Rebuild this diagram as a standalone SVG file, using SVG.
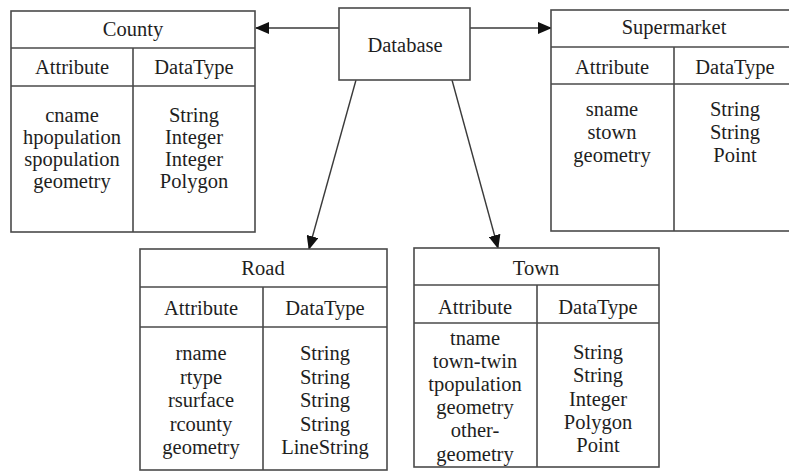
<svg xmlns="http://www.w3.org/2000/svg" width="789" height="471" viewBox="0 0 789 471">
<style>
  .box { fill: #ffffff; stroke: #4a4a4a; stroke-width: 1.6; }
  .ln { stroke: #4a4a4a; stroke-width: 1.6; fill: none; }
  .conn { stroke: #3a3a3a; stroke-width: 1.4; fill: none; marker-end: url(#arrow); }
  text { font-family: "Liberation Serif", "Times New Roman", serif; font-size: 20.5px; fill: #1e1e1e; text-anchor: middle; }
</style>
<defs>
  <marker id="arrow" markerUnits="userSpaceOnUse" markerWidth="14" markerHeight="12" refX="13" refY="6" orient="auto">
    <path d="M0,0 L14,6 L0,12 z" fill="#111111"/>
  </marker>
</defs>
<rect width="789" height="471" fill="#ffffff"/>

<g id="connectors">
  <line class="conn" x1="339" y1="28" x2="256" y2="28"/>
  <line class="conn" x1="470" y1="28" x2="551" y2="28"/>
  <line class="conn" x1="356" y1="80" x2="309" y2="249"/>
  <line class="conn" x1="452" y1="80" x2="498" y2="248"/>
</g>

<g id="database">
  <rect class="box" x="339" y="8" width="131" height="72"/>
  <text x="405" y="52">Database</text>
</g>

<g id="county">
  <rect class="box" x="11" y="11" width="244" height="221"/>
  <line class="ln" x1="11" y1="48" x2="255" y2="48"/>
  <line class="ln" x1="11" y1="86" x2="255" y2="86"/>
  <line class="ln" x1="133" y1="48" x2="133" y2="232"/>
  <text x="133" y="36">County</text>
  <text x="72" y="74">Attribute</text>
  <text x="194" y="74">DataType</text>
  <text x="72" y="122">cname</text>
  <text x="72" y="144">hpopulation</text>
  <text x="72" y="166">spopulation</text>
  <text x="72" y="188">geometry</text>
  <text x="194" y="122">String</text>
  <text x="194" y="144">Integer</text>
  <text x="194" y="166">Integer</text>
  <text x="194" y="188">Polygon</text>
</g>

<g id="supermarket">
  <rect class="box" x="551" y="10" width="246" height="221"/>
  <line class="ln" x1="551" y1="47" x2="797" y2="47"/>
  <line class="ln" x1="551" y1="84" x2="797" y2="84"/>
  <line class="ln" x1="674" y1="47" x2="674" y2="231"/>
  <text x="674" y="34">Supermarket</text>
  <text x="612" y="74">Attribute</text>
  <text x="735" y="74">DataType</text>
  <text x="612" y="116">sname</text>
  <text x="612" y="139">stown</text>
  <text x="612" y="162">geometry</text>
  <text x="735" y="116">String</text>
  <text x="735" y="139">String</text>
  <text x="735" y="162">Point</text>
</g>

<g id="road">
  <rect class="box" x="140" y="249" width="247" height="221"/>
  <line class="ln" x1="140" y1="287" x2="387" y2="287"/>
  <line class="ln" x1="140" y1="327" x2="387" y2="327"/>
  <line class="ln" x1="263" y1="287" x2="263" y2="470"/>
  <text x="263" y="275">Road</text>
  <text x="201" y="315">Attribute</text>
  <text x="325" y="315">DataType</text>
  <text x="201" y="360">rname</text>
  <text x="201" y="384">rtype</text>
  <text x="201" y="407">rsurface</text>
  <text x="201" y="431">rcounty</text>
  <text x="201" y="454">geometry</text>
  <text x="325" y="360">String</text>
  <text x="325" y="384">String</text>
  <text x="325" y="407">String</text>
  <text x="325" y="431">String</text>
  <text x="325" y="454">LineString</text>
</g>

<g id="town">
  <rect class="box" x="414" y="248" width="245" height="219"/>
  <line class="ln" x1="414" y1="285" x2="659" y2="285"/>
  <line class="ln" x1="414" y1="323" x2="659" y2="323"/>
  <line class="ln" x1="537" y1="285" x2="537" y2="467"/>
  <text x="536" y="275">Town</text>
  <text x="475" y="314">Attribute</text>
  <text x="598" y="314">DataType</text>
  <text x="475" y="345">tname</text>
  <text x="475" y="368">town-twin</text>
  <text x="475" y="391">tpopulation</text>
  <text x="475" y="414">geometry</text>
  <text x="475" y="437">other-</text>
  <text x="475" y="461">geometry</text>
  <text x="598" y="359">String</text>
  <text x="598" y="382">String</text>
  <text x="598" y="406">Integer</text>
  <text x="598" y="429">Polygon</text>
  <text x="598" y="452">Point</text>
</g>
</svg>
